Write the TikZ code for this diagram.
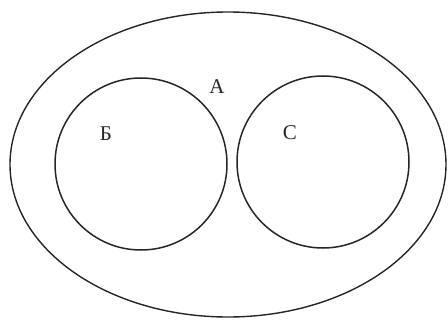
\documentclass[tikz,border=0pt]{standalone}
\usepackage{fontspec}
\setmainfont{Liberation Serif}
\usetikzlibrary{shapes.geometric}

\begin{document}
\begin{tikzpicture}[
        x=1pt,
        y=-1pt,
        every node/.style={font=\fontsize{21}{24}\selectfont},
        outer/.style={
            ellipse,
            draw=black!85,
            line width=1.4pt,
            minimum width=436pt,
            minimum height=305pt,
            inner sep=0pt
        },
        set/.style={
            circle,
            draw=black!85,
            line width=1.5pt,
            minimum size=172pt,
            inner sep=0pt
        },
        lbl/.style={inner sep=1pt, text=black!85}
    ]
    \useasboundingbox (0,0) rectangle (448,321);

    % Sets
    \node[outer] (A) at (228,164.5) {};
    \node[set] (B) at (141,164) {};
    \node[set] (C) at (323,162) {};

    % Labels
    \node[lbl] (la) at (217,87) {А};
    \node[lbl] (lb) at (106,134) {Б};
    \node[lbl] (lc) at (290,133) {С};

    \end{tikzpicture}
\end{document}
